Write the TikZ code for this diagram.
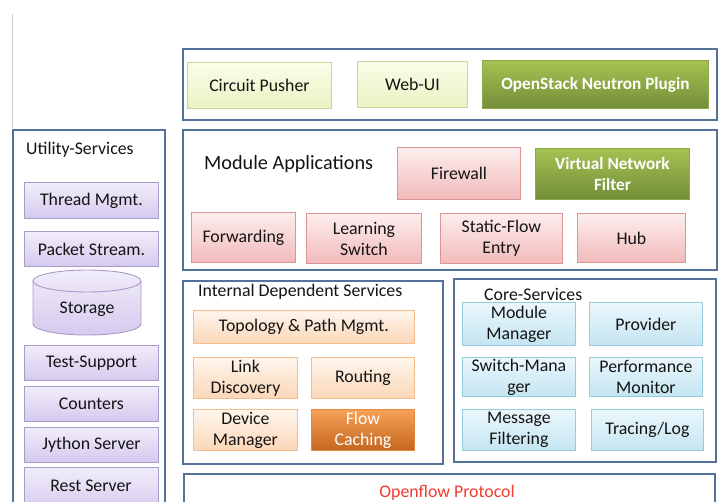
\documentclass[tikz,border=0pt]{standalone}
\usepackage{fontspec}
\setmainfont{Carlito}
\definecolor{frame}{HTML}{55729A}
\definecolor{yelT}{HTML}{FBFDE8}\definecolor{yelB}{HTML}{EAF2C2}\definecolor{yelD}{HTML}{C4D79B}
\definecolor{oliT}{HTML}{A5C253}\definecolor{oliB}{HTML}{738E38}\definecolor{oliD}{HTML}{8EAA48}
\definecolor{pnkT}{HTML}{FDEEEE}\definecolor{pnkB}{HTML}{F2BABA}\definecolor{pnkD}{HTML}{DA9694}
\definecolor{lavT}{HTML}{F1EDFA}\definecolor{lavB}{HTML}{D5CAEE}\definecolor{lavD}{HTML}{A99BC9}
\definecolor{pchT}{HTML}{FEF5EC}\definecolor{pchB}{HTML}{FBD7B8}\definecolor{pchD}{HTML}{F6BC8C}
\definecolor{orgT}{HTML}{F6A157}\definecolor{orgB}{HTML}{C5661E}\definecolor{orgD}{HTML}{E8883A}
\definecolor{bluT}{HTML}{EBF7FC}\definecolor{bluB}{HTML}{C4E5F2}\definecolor{bluD}{HTML}{93CDDD}
\definecolor{ofred}{HTML}{F23A2E}
\newcommand\bx[7]{%
  \pgfmathsetmacro\bxw{#5-#3}\pgfmathsetmacro\bxh{#6-#4}%
  \node[#2, minimum width=\bxw pt, minimum height=\bxh pt, anchor=north west] (#1) at (#3,#4) {#7};}
\begin{document}
\begin{tikzpicture}[x=1pt,y=-1pt,
  base/.style={inner sep=0pt, align=center, font=\fontsize{17.8}{21}\selectfont, line width=0.9pt, text=black!92},
  frm/.style={base, draw=frame, line width=1.8pt, fill=white},
  yel/.style={base, draw=yelD, top color=yelT, bottom color=yelB},
  oli/.style={base, draw=oliD, top color=oliT, bottom color=oliB, text=white, font=\fontsize{17.2}{21}\selectfont\bfseries},
  pnk/.style={base, draw=pnkD, top color=pnkT, bottom color=pnkB},
  lav/.style={base, draw=lavD, top color=lavT, bottom color=lavB},
  pch/.style={base, draw=pchD, top color=pchT, bottom color=pchB},
  org/.style={base, draw=orgD, top color=orgT, bottom color=orgB, text=white},
  blu/.style={base, draw=bluD, top color=bluT, bottom color=bluB},
  ttl/.style={inner sep=0pt, anchor=west, font=\fontsize{17.8}{21}\selectfont, text=black!92}]
\useasboundingbox (0,0) rectangle (723,502);
\fill[white] (0,0) rectangle (723,502);
\coordinate (g1) at (12,14); \coordinate (g2) at (12,128);
\draw[black!20, line width=1pt] (g1) -- (g2);
% containers
\bx{top}{frm}{182}{48}{716}{119}{}
\bx{mod}{frm}{182}{129}{716}{269}{}
\bx{util}{frm}{12}{129}{164}{512}{}
\bx{ids}{frm}{182}{280}{442}{463}{}
\bx{core}{frm}{453}{278}{715}{461}{}
\bx{of}{frm}{183}{473}{714}{515}{}
% top row
\bx{cp}{yel}{187}{62}{331}{108}{Circuit Pusher}
\bx{web}{yel}{357}{61}{467}{107}{Web-UI}
\bx{osn}{oli}{482}{60}{708}{108}{OpenStack Neutron Plugin}
% module applications
\node[ttl, font=\fontsize{20.2}{24}\selectfont] (modt) at (204,164.5) {Module Applications};
\bx{fw}{pnk}{397}{147}{520}{199}{Firewall}
\bx{vnf}{oli}{535}{148}{689}{199}{Virtual Network\\Filter}
\bx{fwd}{pnk}{191}{212}{295}{262}{Forwarding}
\bx{ls}{pnk}{306}{213}{421}{263}{Learning\\Switch}
\bx{sfe}{pnk}{440}{213}{562}{263}{Static-Flow\\Entry}
\bx{hub}{pnk}{577}{213}{685}{262}{Hub}
% utility services
\node[ttl] (utilt) at (26,149.5) {Utility-Services};
\bx{thr}{lav}{24}{182}{158}{218}{Thread Mgmt.}
\bx{pkt}{lav}{24}{231}{158}{266}{Packet Stream.}
\shade[top color=lavT, bottom color=lavB, draw=lavD, line width=0.9pt]
  (33,281) -- (33,324) arc[start angle=180, end angle=0, x radius=54, y radius=11]
  -- (141,281) arc[start angle=0, end angle=-180, x radius=54, y radius=11] -- cycle;
\draw[lavD, line width=0.9pt] (33,281) arc[start angle=180, end angle=0, x radius=54, y radius=11];
\node[base] (sto) at (87,309) {Storage};
\bx{tst}{lav}{24}{345}{158}{380}{Test-Support}
\bx{cnt}{lav}{24}{386}{158}{421}{Counters}
\bx{jyt}{lav}{24}{427}{158}{462}{Jython Server}
\bx{rst}{lav}{24}{467}{158}{512}{}
\node[base] (rstt) at (91,486) {Rest Server};
% internal dependent services
\node[ttl] (idst) at (198,292) {Internal Dependent Services};
\bx{topo}{pch}{193}{310}{414}{343}{Topology \& Path Mgmt.}
\bx{ld}{pch}{193}{357}{297}{398}{Link\\Discovery}
\bx{rt}{pch}{311}{357}{414}{398}{Routing}
\bx{dm}{pch}{193}{409}{297}{450}{Device\\Manager}
\bx{fc}{org}{311}{409}{414}{450}{Flow\\Caching}
% core services
\node[ttl] (coret) at (484,294) {Core-Services};
\bx{mm}{blu}{462}{302}{575}{345}{Module\\Manager}
\bx{prv}{blu}{589}{302}{702}{345}{Provider}
\bx{sm}{blu}{462}{357}{575}{396}{Switch-Mana\\ger}
\bx{pm}{blu}{589}{357}{702}{396}{Performance\\Monitor}
\bx{mf}{blu}{462}{409}{575}{450}{Message\\Filtering}
\bx{tl}{blu}{591}{409}{703}{450}{Tracing/Log}
% openflow
\node[base, text=ofred] (oft) at (447,493) {Openflow Protocol};
\end{tikzpicture}
\end{document}
